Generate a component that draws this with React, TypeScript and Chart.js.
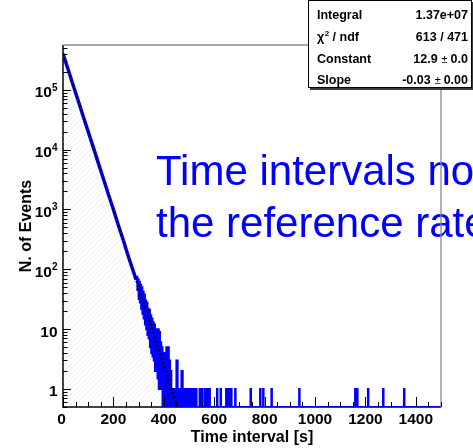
import React, { useEffect, useRef } from "react";
import { Chart, registerables } from "chart.js";

Chart.register(...registerables);

// ---------------- data ----------------
// steep, smooth part of the histogram (counts per 1 s bin)
const smoothTimes = [0, 20, 40, 60, 80, 100, 120, 140, 160, 180, 200, 220, 240, 260, 280, 290];
const smoothCounts = [400000, 220000, 120000, 66000, 36000, 20000, 11000, 6000, 3300, 1800, 1000, 540, 300, 160, 90, 67];

// noisy part: lower / upper envelope of the fluctuating bins
const bandTimes = [
  290, 295, 300, 305, 310, 315, 320, 325, 330, 335,
  340, 345, 350, 355, 360, 365, 370, 375, 380, 385,
  390, 395, 400, 405, 410, 415, 420, 425, 430, 435,
  440, 445, 450, 455, 460, 465, 470, 475, 480, 485,
  490, 495, 500, 505, 510, 515, 520, 525, 530,
];
const bandHigh = [
  75, 68, 62, 55, 50, 42, 38, 30, 28, 22,
  21, 17, 15, 13, 12, 10, 10, 10, 9, 6,
  5, 4, 4, 3, 5, 5, 3, 2, 1, 1,
  1, 1, 3, 1, 1, 1, 2, 1, 1, 1,
  1, 1, 1, 1, 1, 1, 1, 1, 0.5,
];
const bandLow = [
  60, 45, 32, 28, 22, 18, 15, 12, 10, 8,
  7, 5, 4, 3.5, 3, 2, 2, 1.5, 1, 1,
  1, 0.5, 0.5, 0.5, 0.5, 0.5, 0.5, 0.5, 0.5, 0.5,
  0.5, 0.5, 0.5, 0.5, 0.5, 0.5, 0.5, 0.5, 0.5, 0.5,
  0.5, 0.5, 0.5, 0.5, 0.5, 0.5, 0.5, 0.5, 0.5,
];

// isolated single-count bins in the tail
const tailSpikeTimes = [542, 552, 563, 571, 581, 611, 625, 647, 657, 667, 683, 744, 782, 794, 827, 937, 1159, 1167, 1210, 1270, 1353];
const tailSpikeCounts = [1, 1, 1, 1, 1, 1, 1, 1, 1, 1, 1, 1, 1, 1, 1, 1, 1, 1, 1, 1, 1];
const emptyLevel = 0.5;
const tailStart = 530;
const spikeWidth = 2;

// exponential fit (Constant 12.9, Slope -0.03)
const fitTimes = [0, 470];
const fitValues = [400000, 0.3];

// axes
const xMin = 0;
const xMax = 1500;
const yMin = 0.5;
const yMax = 560000;
const xMajorTicks = [0, 200, 400, 600, 800, 1000, 1200, 1400];
const xMinorStep = 50;
const yMajorTicks = [1, 10, 100, 1000, 10000, 100000];
const yTickBase = ["1", "10", "10", "10", "10", "10"];
const yTickExp = ["", "", "2", "3", "4", "5"];

const statsLabels = ["Integral", "\u03c7", "Constant", "Slope"];
const statsValues = [["1.37e+07"], ["613 / 471"], ["12.9", "0.0"], ["-0.03", "0.00"]];

const textLines = ["Time intervals normalized to", "the reference rate"];

const F = '"Liberation Sans", Arial, Helvetica, sans-serif';
const BLUE = "#0000ff";

export default function App() {
  const ref = useRef<HTMLCanvasElement>(null);

  useEffect(() => {
    document.body.style.margin = "0";
    const canvas = ref.current!;
    const ctx0 = canvas.getContext("2d")!;

    // faint diagonal hatch
    const pc = document.createElement("canvas");
    pc.width = 5;
    pc.height = 5;
    const pctx = pc.getContext("2d")!;
    pctx.strokeStyle = "rgba(170,170,215,0.2)";
    pctx.lineWidth = 1;
    pctx.beginPath();
    pctx.moveTo(-1, 6);
    pctx.lineTo(6, -1);
    pctx.stroke();
    const hatch = ctx0.createPattern(pc, "repeat");

    const smoothPts = smoothTimes.map((t, i) => ({ x: t, y: smoothCounts[i] }));
    const hiPts = bandTimes.map((t, i) => ({ x: t, y: bandHigh[i] }));
    const loPts = bandTimes.map((t, i) => ({ x: t, y: bandLow[i] }));
    const tailPts: { x: number; y: number }[] = [{ x: tailStart, y: emptyLevel }];
    tailSpikeTimes.forEach((t, i) => {
      tailPts.push({ x: t, y: tailSpikeCounts[i] });
      tailPts.push({ x: t + spikeWidth, y: emptyLevel });
    });
    tailPts.push({ x: xMax, y: emptyLevel });
    const fitPts = fitTimes.map((t, i) => ({ x: t, y: fitValues[i] }));

    const axesPlugin = {
      id: "rootAxes",
      beforeDatasetsDraw(chart: any) {
        const { ctx, chartArea: a } = chart;
        ctx.save();
        ctx.strokeStyle = "#000";
        ctx.lineWidth = 1.5;
        ctx.beginPath();
        ctx.moveTo(a.left, a.top);
        ctx.lineTo(a.left, a.bottom);
        ctx.lineTo(a.right, a.bottom);
        ctx.stroke();
        ctx.restore();
      },
      afterDraw(chart: any) {
        const { ctx, chartArea: a } = chart;
        const xs = chart.scales.x;
        const ys = chart.scales.y;
        ctx.save();

        // overlay text
        ctx.fillStyle = BLUE;
        ctx.font = `42px ${F}`;
        ctx.textAlign = "left";
        ctx.textBaseline = "alphabetic";
        ctx.fillText(textLines[0], 156, 185);
        ctx.fillText(textLines[1], 156, 237);

        // frame top / right (grey)
        ctx.strokeStyle = "#8a8a8a";
        ctx.lineWidth = 1.3;
        ctx.beginPath();
        ctx.moveTo(a.left, a.top);
        ctx.lineTo(a.right, a.top);
        ctx.lineTo(a.right, a.bottom);
        ctx.stroke();

        // x ticks (inside)
        ctx.strokeStyle = "#000";
        ctx.lineWidth = 1;
        for (let v = xMin; v <= xMax; v += xMinorStep) {
          const px = Math.round(xs.getPixelForValue(v)) + 0.5;
          const major = xMajorTicks.includes(v);
          ctx.beginPath();
          ctx.moveTo(px, a.bottom);
          ctx.lineTo(px, a.bottom - (major ? 10 : 5));
          ctx.stroke();
        }
        // y ticks (inside)
        for (let d = 0.1; d < yMax; d *= 10) {
          for (let m = 1; m <= 9; m++) {
            const v = +(m * d).toPrecision(3);
            if (v < yMin || v > yMax) continue;
            const py = Math.round(ys.getPixelForValue(v)) + 0.5;
            ctx.beginPath();
            ctx.moveTo(a.left, py);
            ctx.lineTo(a.left + (m === 1 ? 8 : 4.5), py);
            ctx.stroke();
          }
        }

        // x tick labels
        ctx.fillStyle = "#000";
        ctx.font = `bold 15.5px ${F}`;
        ctx.textAlign = "center";
        xMajorTicks.forEach((v) => {
          ctx.fillText(String(v), xs.getPixelForValue(v) - (v === 0 ? 1.5 : 0), 423.5);
        });

        // y tick labels
        yMajorTicks.forEach((v, i) => {
          const py = ys.getPixelForValue(v);
          const base = yTickBase[i];
          const ex = yTickExp[i];
          ctx.font = `bold 15.5px ${F}`;
          const wb = ctx.measureText(base).width;
          ctx.font = `bold 10px ${F}`;
          const we = ex ? ctx.measureText(ex).width : 0;
          const sx = 57.5 - wb - we;
          ctx.textAlign = "left";
          ctx.font = `bold 15.5px ${F}`;
          ctx.fillText(base, sx, py + 7.5);
          if (ex) {
            ctx.font = `bold 10px ${F}`;
            ctx.fillText(ex, sx + wb, py + 1);
          }
        });

        // axis titles
        ctx.font = `bold 16px ${F}`;
        ctx.textAlign = "center";
        ctx.fillText("Time interval [s]", (a.left + a.right) / 2, 442);
        ctx.save();
        ctx.translate(31, (a.top + a.bottom) / 2);
        ctx.rotate(-Math.PI / 2);
        ctx.fillText("N. of Events", 0, 0);
        ctx.restore();

        // stats box
        ctx.fillStyle = "#3a3a3a";
        ctx.fillRect(310, 2, 165, 88);
        ctx.fillStyle = "#fff";
        ctx.fillRect(308, 0, 164, 87.5);
        ctx.strokeStyle = "#000";
        ctx.lineWidth = 1;
        ctx.strokeRect(308.5, 0.5, 163, 87);

        const baselines = [18.5, 41, 63, 84];
        const fs = 12.5;
        ctx.fillStyle = "#000";
        statsLabels.forEach((lab, i) => {
          ctx.textAlign = "left";
          ctx.font = `bold ${fs}px ${F}`;
          ctx.fillText(lab, 317, baselines[i]);
          if (i === 1) {
            const w = ctx.measureText(lab).width;
            ctx.font = `bold 8px ${F}`;
            ctx.fillText("2", 317 + w + 0.5, baselines[i] - 5);
            const w2 = ctx.measureText("2").width;
            ctx.font = `bold ${fs}px ${F}`;
            ctx.fillText(" / ndf", 317 + w + w2 + 0.5, baselines[i]);
          }
          const parts = statsValues[i];
          const right = 468;
          ctx.textAlign = "right";
          if (parts.length === 1) {
            ctx.font = `bold ${fs}px ${F}`;
            ctx.fillText(parts[0], right, baselines[i]);
          } else {
            ctx.font = `bold ${fs}px ${F}`;
            ctx.fillText(parts[1], right, baselines[i]);
            let x = right - ctx.measureText(parts[1]).width - 3;
            ctx.font = `11px ${F}`;
            const pm = "\u00b1";
            ctx.fillText(pm, x, baselines[i]);
            x -= ctx.measureText(pm).width + 4;
            ctx.font = `bold ${fs}px ${F}`;
            ctx.fillText(parts[0], x, baselines[i]);
          }
        });
        ctx.restore();
      },
    };

    const chart = new Chart(canvas, {
      type: "line",
      data: {
        datasets: [
          {
            data: fitPts,
            borderColor: "#000",
            borderWidth: 2,
            borderDash: [2, 2.5],
            pointRadius: 0,
            fill: false,
          },
          {
            data: smoothPts,
            borderColor: BLUE,
            borderWidth: 3.5,
            pointRadius: 0,
            fill: "start",
            backgroundColor: hatch as any,
          },
          {
            data: hiPts,
            borderColor: BLUE,
            borderWidth: 2,
            pointRadius: 0,
            stepped: true,
            fill: "+1",
            backgroundColor: BLUE,
          },
          {
            data: loPts,
            borderColor: BLUE,
            borderWidth: 2,
            pointRadius: 0,
            stepped: true,
            fill: "start",
            backgroundColor: hatch as any,
          },
          {
            data: tailPts,
            borderColor: BLUE,
            borderWidth: 2,
            pointRadius: 0,
            stepped: true,
            fill: false,
          },
        ],
      },
      options: {
        animation: false,
        responsive: false,
        layout: { padding: { left: 63, top: 45, right: 32, bottom: 41 } },
        scales: {
          x: { type: "linear", min: xMin, max: xMax, display: false },
          y: { type: "logarithmic", min: yMin, max: yMax, display: false },
        },
        plugins: { legend: { display: false }, tooltip: { enabled: false } },
      },
      plugins: [axesPlugin],
    } as any);

    return () => chart.destroy();
  }, []);

  return <canvas ref={ref} width={473} height={448} style={{ display: "block" }} />;
}
